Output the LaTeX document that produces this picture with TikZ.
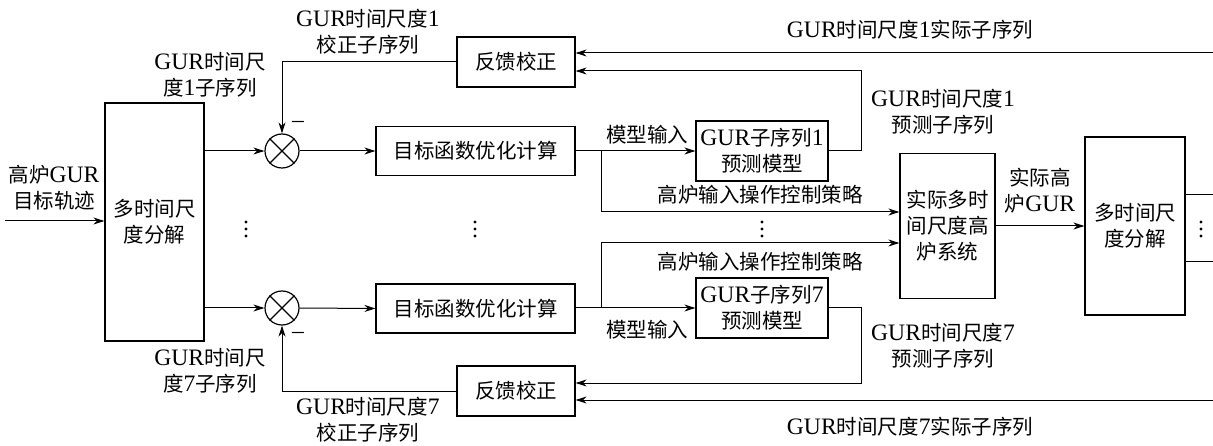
\documentclass[tikz,border=0pt]{standalone}
\usepackage{fontspec}
\setmainfont{Noto Sans CJK SC}
\newfontfamily\tm[Scale=1.15]{Liberation Serif}
\newcommand\lat[1]{{\tm #1}}
\usetikzlibrary{arrows.meta}
\begin{document}
\begin{tikzpicture}[x=1pt,y=-1pt, line width=1pt,
  font=\fontsize{20.5}{26}\selectfont,
  box/.style={draw, line width=1.2pt, inner sep=0pt, align=center},
  lbl/.style={align=center, inner sep=0pt},
  dot/.style={fill, circle, inner sep=0pt, minimum size=3.4pt},
  arr/.style={-{Stealth[length=11pt,width=7pt]}}]
\useasboundingbox (0,0) rectangle (1213,446);
% boxes
\node[box, minimum width=99pt, minimum height=238pt] (dec1) at (154.5,222) {多时间尺\\度分解};
\node[draw, circle, line width=1.2pt, minimum size=34pt, inner sep=0pt] (sum1) at (282,151) {};
\node[draw, circle, line width=1.2pt, minimum size=34pt, inner sep=0pt] (sum7) at (282,308) {};
\draw[line width=1.2pt] (sum1.45) -- (sum1.225) (sum1.135) -- (sum1.315);
\draw[line width=1.2pt] (sum7.45) -- (sum7.225) (sum7.135) -- (sum7.315);
\node[box, minimum width=199pt, minimum height=49pt] (opt1) at (475.5,151) {目标函数优化计算};
\node[box, minimum width=199pt, minimum height=49pt] (opt7) at (475.5,308.5) {目标函数优化计算};
\node[box, minimum width=118pt, minimum height=50pt] (fb1) at (516,62) {反馈校正};
\node[box, minimum width=118pt, minimum height=50pt] (fb7) at (516,391) {反馈校正};
\node[box, minimum width=132pt, minimum height=60pt] (mdl1) at (762,151) {\lat{GUR}子序列\lat{1}\\预测模型};
\node[box, minimum width=132pt, minimum height=60pt] (mdl7) at (762,308) {\lat{GUR}子序列\lat{7}\\预测模型};
\node[box, minimum width=95pt, minimum height=145pt] (sys) at (947.5,226) {实际多时\\间尺度高\\炉系统};
\node[box, minimum width=100pt, minimum height=178pt] (dec2) at (1135,226) {多时间尺\\度分解};
% coordinates
\coordinate (in) at (5,221);
\coordinate (br1) at (601,151);
\coordinate (br7) at (601,308);
\coordinate (c1) at (601,212);
\coordinate (c7) at (601,243);
\coordinate (r1) at (861,71);
\coordinate (r7) at (861,383);
\coordinate (a1) at (1213,53);
\coordinate (a7) at (1213,400);
\coordinate (o1) at (1213,195);
\coordinate (o7) at (1213,262);
% connectors
\draw[arr] (in) -- (dec1.west |- in);
\draw[arr] (dec1.east |- sum1) -- (sum1.west);
\draw[arr] (dec1.east |- sum7) -- (sum7.west);
\draw[arr] (sum1.east) -- (opt1.west);
\draw[arr] (sum7.east) -- (opt7.west);
\draw[arr] (opt1.east) -- (mdl1.west);
\draw[arr] (opt7.east |- mdl7) -- (mdl7.west);
\draw[arr] (br1) |- (sys.west |- c1);
\draw[arr] (br7) |- (sys.west |- c7);
\draw[arr] (mdl1.east) -| (r1) -- (fb1.east |- r1);
\draw[arr] (mdl7.east) -| (r7) -- (fb7.east |- r7);
\draw[arr] (a1) -- (fb1.east |- a1);
\draw[arr] (a7) -- (fb7.east |- a7);
\draw[arr] (fb1.west) -| (sum1.north);
\draw[arr] (fb7.west) -| (sum7.south);
\draw[arr] (sys.east) -- (dec2.west);
\draw (dec2.east |- o1) -- (o1);
\draw (dec2.east |- o7) -- (o7);
% labels
\node[lbl] (l1) at (54,188) {高炉\lat{GUR}\\目标轨迹};
\node[lbl] (l2) at (210,75) {\lat{GUR}时间尺\\度\lat{1}子序列};
\node[lbl] (l3) at (210,371) {\lat{GUR}时间尺\\度\lat{7}子序列};
\node[lbl] (l4) at (368,32) {\lat{GUR}时间尺度\lat{1}\\校正子序列};
\node[lbl] (l5) at (368,420) {\lat{GUR}时间尺度\lat{7}\\校正子序列};
\node[lbl] (m1) at (298,124) {\lat{–}};
\node[lbl] (m7) at (298,335) {\lat{–}};
\node[lbl] (l6) at (647,135) {模型输入};
\node[lbl] (l7) at (647,330) {模型输入};
\node[lbl] (l8) at (760,195) {高炉输入操作控制策略};
\node[lbl] (l9) at (760,262) {高炉输入操作控制策略};
\node[lbl] (l10) at (943,112) {\lat{GUR}时间尺度\lat{1}\\预测子序列};
\node[lbl] (l11) at (943,346) {\lat{GUR}时间尺度\lat{7}\\预测子序列};
\node[lbl] (l12) at (910,30) {\lat{GUR}时间尺度\lat{1}实际子序列};
\node[lbl] (l13) at (910,427) {\lat{GUR}时间尺度\lat{7}实际子序列};
\node[lbl] (l14) at (1040,191) {实际高\\炉\lat{GUR}};
% dots
\foreach \x/\n in {246/d1,475/d2,762/d3,1201/d4}{
  \node[dot] (\n a) at (\x,222) {};
  \node[dot] (\n b) at (\x,229) {};
  \node[dot] (\n c) at (\x,236) {};
}
\end{tikzpicture}
\end{document}
